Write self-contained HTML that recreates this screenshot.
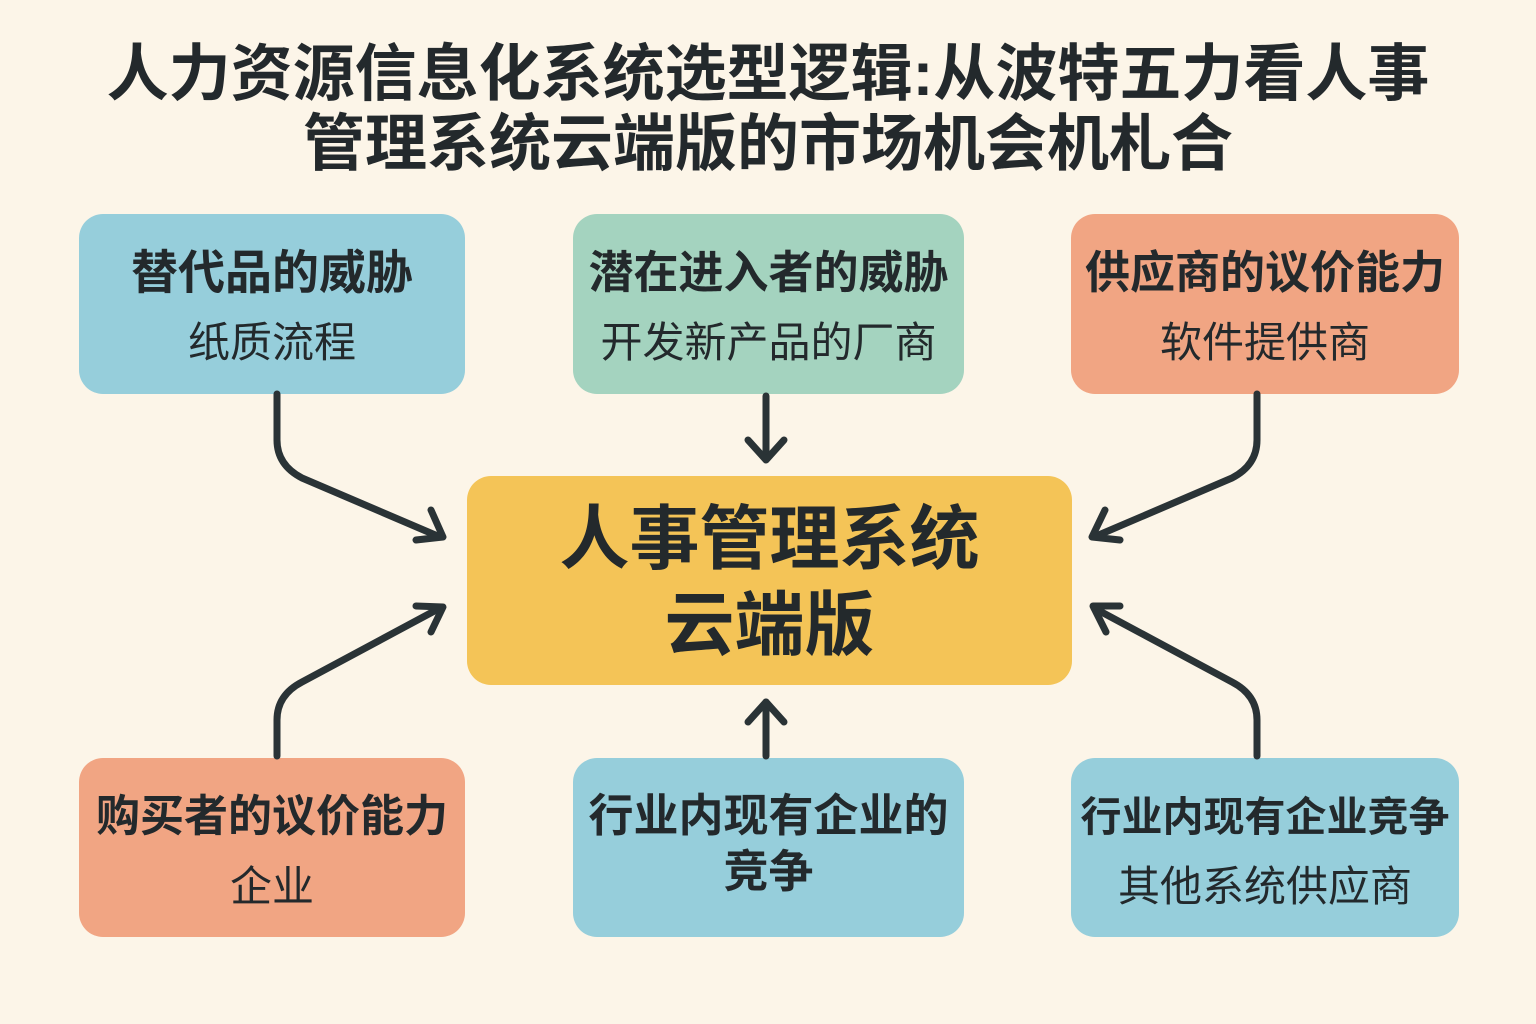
<!DOCTYPE html>
<html><head><meta charset="utf-8"><style>
body{margin:0;width:1536px;height:1024px;background:#fcf5e8;font-family:"Liberation Sans","Noto Sans CJK SC",sans-serif;position:relative;overflow:hidden;color:#23292c}
.t{position:absolute;left:0;width:1536px;text-align:center;font-weight:bold;font-size:62px;line-height:70px}
.b{position:absolute;border-radius:24px;text-align:center;box-sizing:border-box}
.h{font-weight:bold;font-size:45px;line-height:56px;white-space:nowrap;margin-top:31px}
.s{font-size:42px;line-height:56px;white-space:nowrap;margin-top:14px}
</style></head><body>
<div class="t" style="top:40px">人力资源信息化系统选型逻辑:从波特五力看人事</div>
<div class="t" style="top:110px">管理系统云端版的市场机会机札合</div>

<div class="b" style="left:79px;top:214px;width:386px;height:180px;background:#96cedb"><div class="h" style="font-size:47px">替代品的威胁</div><div class="s">纸质流程</div></div>
<div class="b" style="left:573px;top:214px;width:391px;height:180px;background:#a4d3bf"><div class="h">潜在进入者的威胁</div><div class="s">开发新产品的厂商</div></div>
<div class="b" style="left:1071px;top:214px;width:388px;height:180px;background:#f1a583"><div class="h">供应商的议价能力</div><div class="s">软件提供商</div></div>

<div class="b" style="left:467px;top:476px;width:605px;height:209px;background:#f4c457"><div style="font-weight:bold;font-size:70px;line-height:86px;margin-top:20px">人事管理系统<br>云端版</div></div>

<div class="b" style="left:79px;top:758px;width:386px;height:179px;background:#f1a583"><div class="h" style="font-size:44px">购买者的议价能力</div><div class="s">企业</div></div>
<div class="b" style="left:573px;top:758px;width:391px;height:179px;background:#96cedb"><div class="h" style="white-space:normal;margin-top:30px">行业内现有企业的<br>竞争</div></div>
<div class="b" style="left:1071px;top:758px;width:388px;height:179px;background:#96cedb"><div class="h" style="font-size:41px">行业内现有企业竞争</div><div class="s">其他系统供应商</div></div>

<svg width="1536" height="1024" style="position:absolute;left:0;top:0" fill="none" stroke="#2a3336" stroke-width="7" stroke-linecap="round" stroke-linejoin="round">
<path d="M277 394V440Q277 465 302 478L440 537"/><path d="M431 510L443 537L416 540"/>
<path d="M766 396V458"/><path d="M748 440L766 460L784 440"/>
<path d="M1257 394V440Q1257 465 1232 478L1094 537"/><path d="M1105 510L1092 537L1120 540"/>
<path d="M277 756V720Q277 695 302 682L440 608"/><path d="M416 606L443 607L431 632"/>
<path d="M766 756V702"/><path d="M748 722L766 702L784 722"/>
<path d="M1257 756V720Q1257 695 1232 682L1094 608"/><path d="M1120 606L1093 606L1106 632"/>
</svg>
</body></html>
